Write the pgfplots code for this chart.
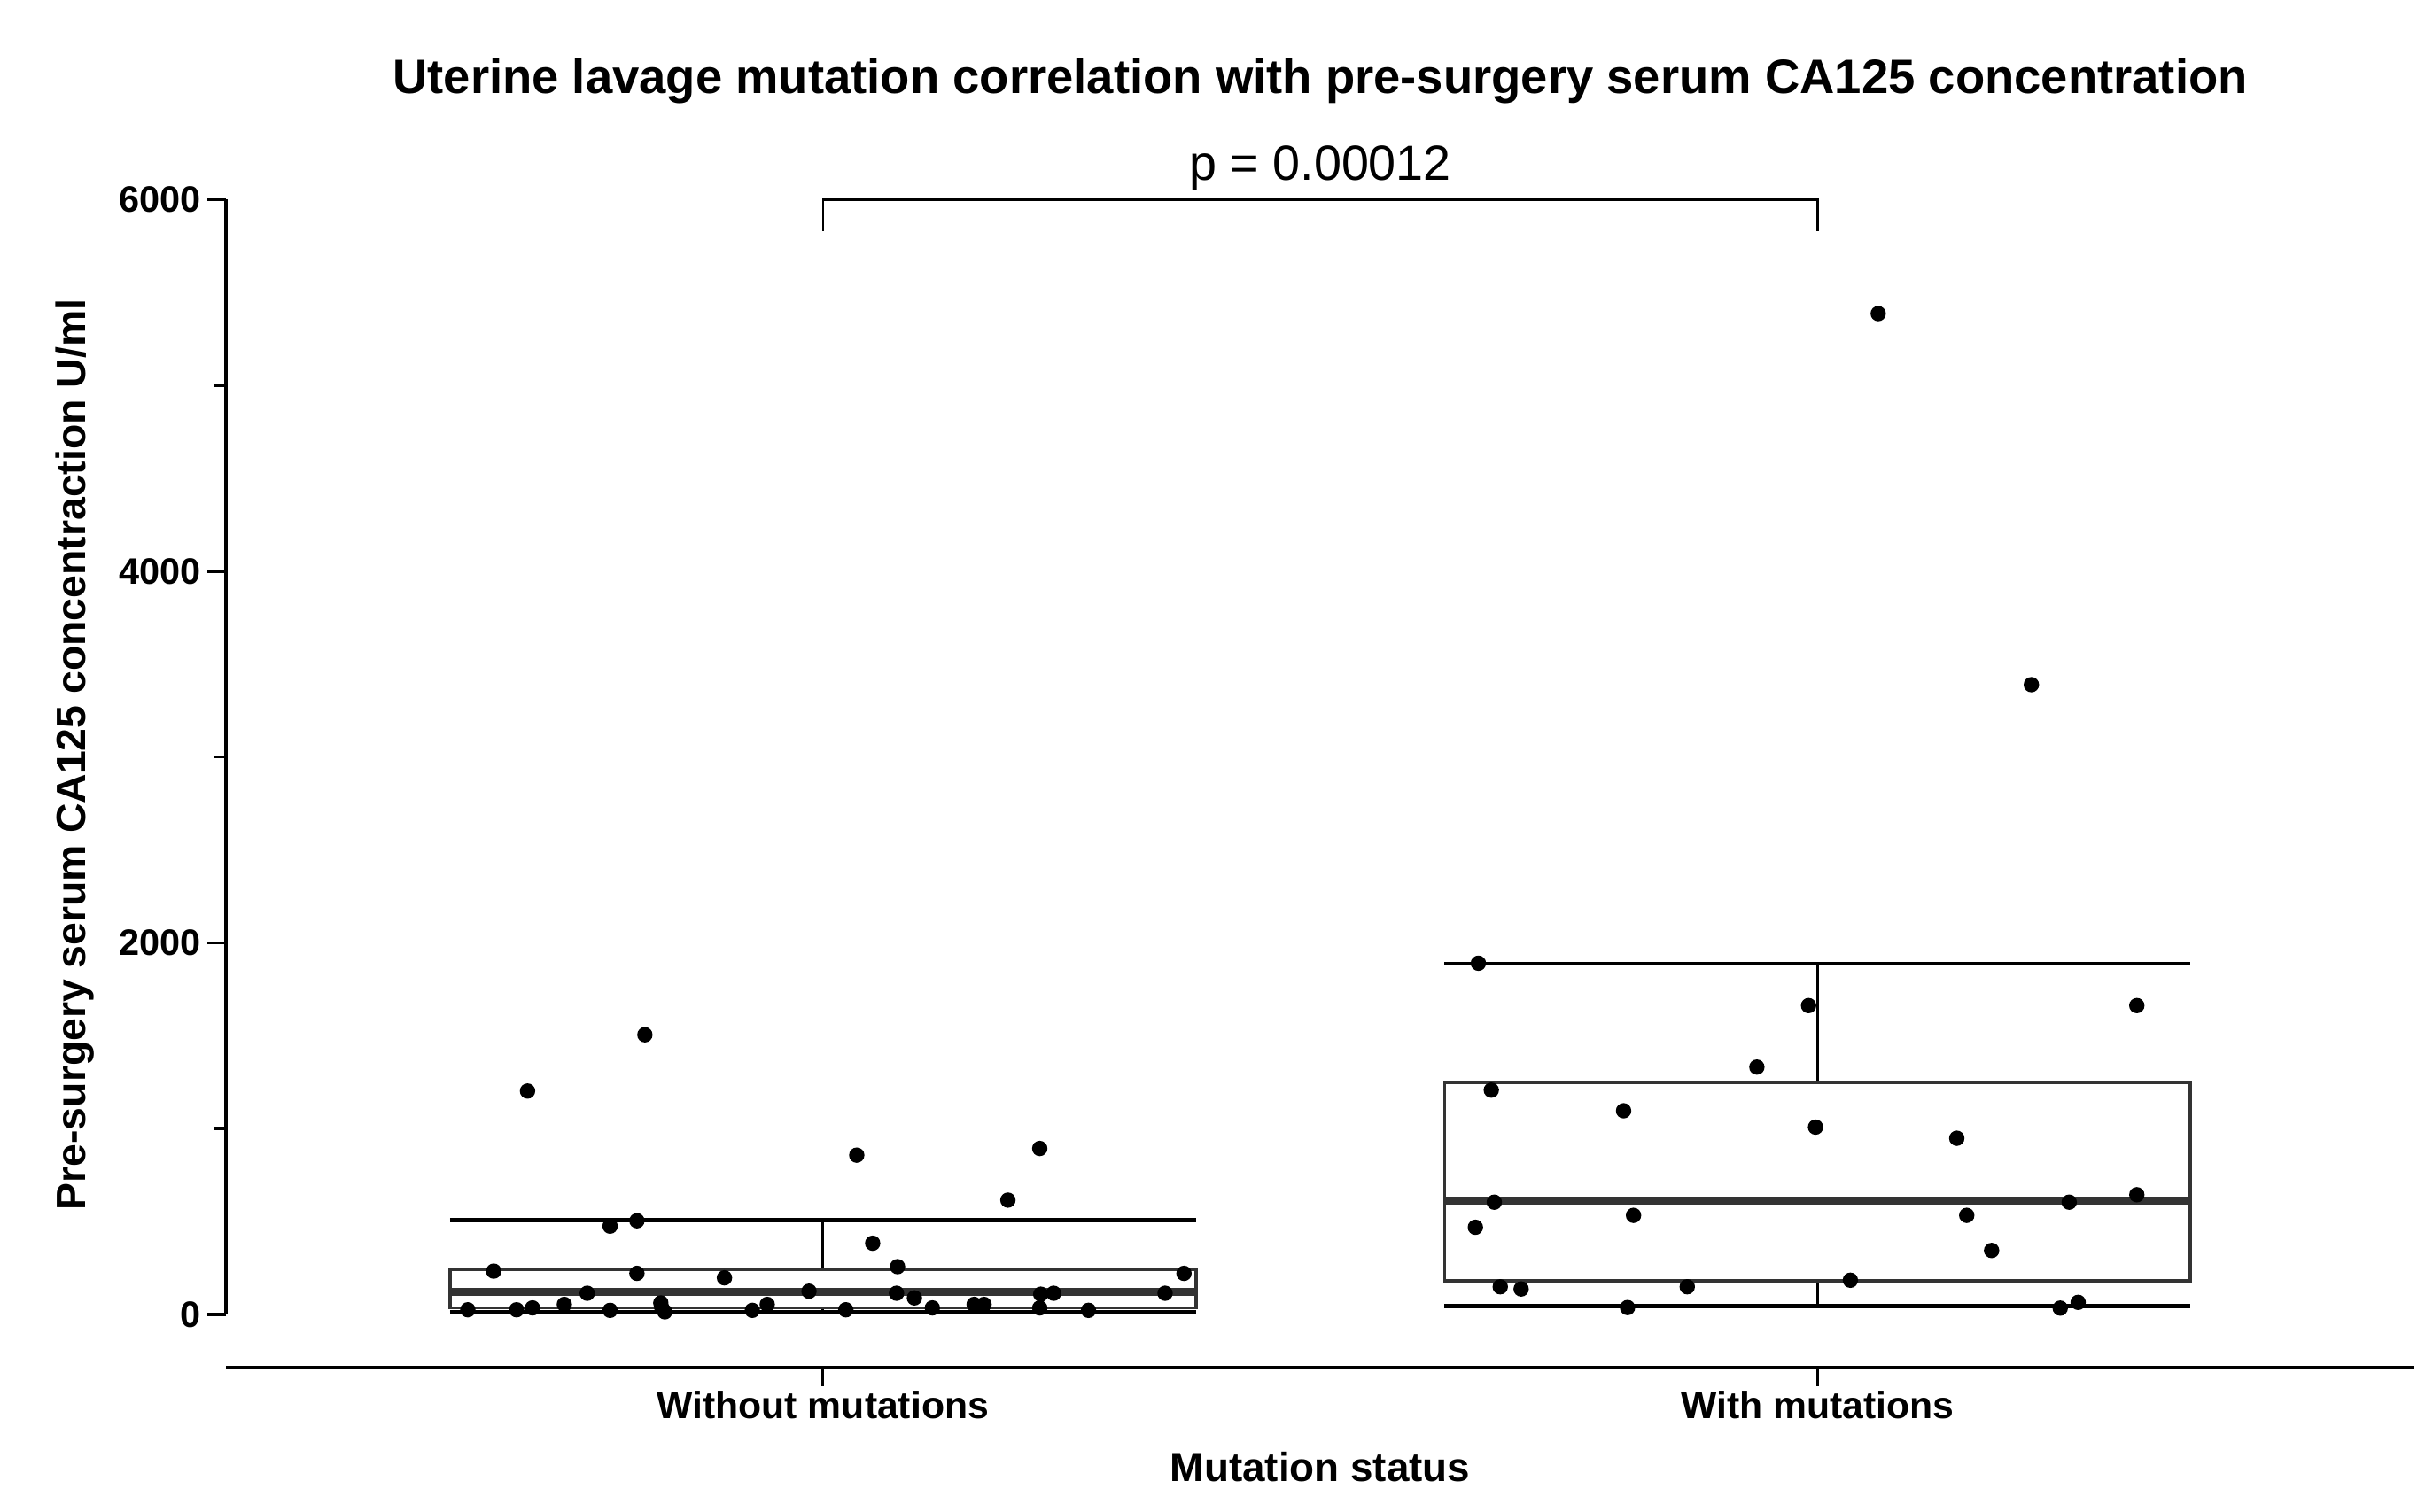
\documentclass[border=0pt]{standalone}
\usepackage{fontspec}
\setmainfont{Liberation Sans}
\usepackage{pgfplots}
\pgfplotsset{compat=1.18}
\usepgfplotslibrary{statistics}

\definecolor{boxgray}{HTML}{333333}

% jittered points: x = group + jitter, y = CA125 (U/ml)
\pgfplotstableread{
x       y
-0.357  25
-0.308  25
-0.292  35
-0.260  54
-0.214  22
-0.163  62
-0.162  35
-0.159  14
-0.071  22
-0.056  54
 0.023  25
 0.110  35
 0.152  54
 0.162  54
 0.218  35
 0.267  22
-0.237  114
-0.014  125
 0.074  114
 0.092  89
 0.219  109
 0.232  114
 0.344  114
-0.331  233
-0.187  221
-0.099  197
 0.075  257
 0.363  221
 0.050  383
-0.214  475
-0.187  504
 0.186  615
 0.034  857
 0.218  893
-0.297  1202
-0.179  1505
}\without

\pgfplotstableread{
x       y
 0.659  1890
 0.991  1662
 1.321  1662
 0.939  1331
 0.672  1207
 0.805  1096
 0.998  1008
 1.140  948
 0.675  604
 1.253  604
 1.321  644
 0.815  533
 1.150  533
 0.656  469
 1.175  344
 1.033  184
 0.681  149
 0.702  137
 0.869  149
 0.809  37
 1.244  34
 1.262  65
 1.061  5386
 1.215  3389
}\withmut

\begin{document}
\begin{tikzpicture}
\useasboundingbox (-1.45cm,-0.922cm) rectangle (14.15cm,8.77cm);
\begin{axis}[
    width=14.03cm,
    height=7.49cm,
    scale only axis,
    clip=false,
    xmin=-0.6, xmax=1.6,
    ymin=-285, ymax=6000,
    axis x line=bottom,
    axis y line=left,
    axis line style={draw=none},
    tick align=outside,
    xtick={0,1},
    xticklabels={Without mutations, With mutations},
    ytick={0,2000,4000,6000},
    minor ytick={1000,3000,5000},
    major tick length=0.12cm,
    minor tick length=0.075cm,
    every tick/.style={black, line width=0.6pt},
    x tick style={line width=0.5pt},
    boxplot/draw direction=y,
    /pgf/number format/set thousands separator={},
    /pgf/number format/assume math mode=true,
    yticklabel style={font=\bfseries\fontsize{6.7}{8}\selectfont, inner sep=1pt},
    xticklabel style={font=\bfseries\fontsize{6.9}{8}\selectfont, yshift=0.09cm},
]
% axis lines in the offset style of the original
\draw[line width=0.7pt] (axis cs:-0.6,0) -- (axis cs:-0.6,6000);
\draw[line width=0.6pt] (axis cs:-0.6,-285) -- (axis cs:1.6,-285);

\addplot[boxplot prepared={
        lower whisker=12, lower quartile=35, median=120,
        upper quartile=240, upper whisker=508,
        draw position=0, box extend=0.75, whisker extend=0.75},
    draw=boxgray, line width=0.6pt,
    boxplot/every median/.style={draw=boxgray, line width=1.4pt},
    boxplot/every whisker/.style={draw=black, line width=0.5pt},
    boxplot/every box/.style={draw=boxgray, line width=0.6pt}]
    coordinates {};
\addplot[boxplot prepared={
        lower whisker=45, lower quartile=182, median=612,
        upper quartile=1250, upper whisker=1888,
        draw position=1, box extend=0.75, whisker extend=0.75},
    draw=boxgray, line width=0.6pt,
    boxplot/every median/.style={draw=boxgray, line width=1.4pt},
    boxplot/every whisker/.style={draw=black, line width=0.5pt},
    boxplot/every box/.style={draw=boxgray, line width=0.6pt}]
    coordinates {};
% whisker caps drawn thicker in the original
\draw[line width=0.75pt] (axis cs:-0.375,508) -- (axis cs:0.375,508);
\draw[line width=0.75pt] (axis cs:-0.375,12) -- (axis cs:0.375,12);
\draw[line width=0.75pt] (axis cs:0.625,1888) -- (axis cs:1.375,1888);
\draw[line width=0.75pt] (axis cs:0.625,45) -- (axis cs:1.375,45);

\addplot[only marks, mark=*, mark size=1.2pt, black] table[x=x, y=y] {\without};
\addplot[only marks, mark=*, mark size=1.2pt, black] table[x=x, y=y] {\withmut};

% significance bracket
\draw[line width=0.4pt] (axis cs:0,5830) -- (axis cs:0,6000) -- (axis cs:1,6000) -- (axis cs:1,5830);
\end{axis}

% title, p-value and axis labels (axis box runs from (0,0) to (14.03,7.49))
\node[font=\fontsize{9}{10}\selectfont] at (7.015cm,7.69cm) {p = 0.00012};
\node[font=\bfseries\fontsize{8.8}{10}\selectfont] at (7.015cm,8.25cm)
    {Uterine lavage mutation correlation with pre-surgery serum CA125 concentration};
\node[font=\bfseries\fontsize{7.4}{9}\selectfont] at (7.015cm,-0.64cm) {Mutation status};
\node[font=\bfseries\fontsize{7.5}{9}\selectfont, rotate=90] at (-0.97cm,3.93cm)
    {Pre-surgery serum CA125 concentraction U/ml};
\end{tikzpicture}
\end{document}
